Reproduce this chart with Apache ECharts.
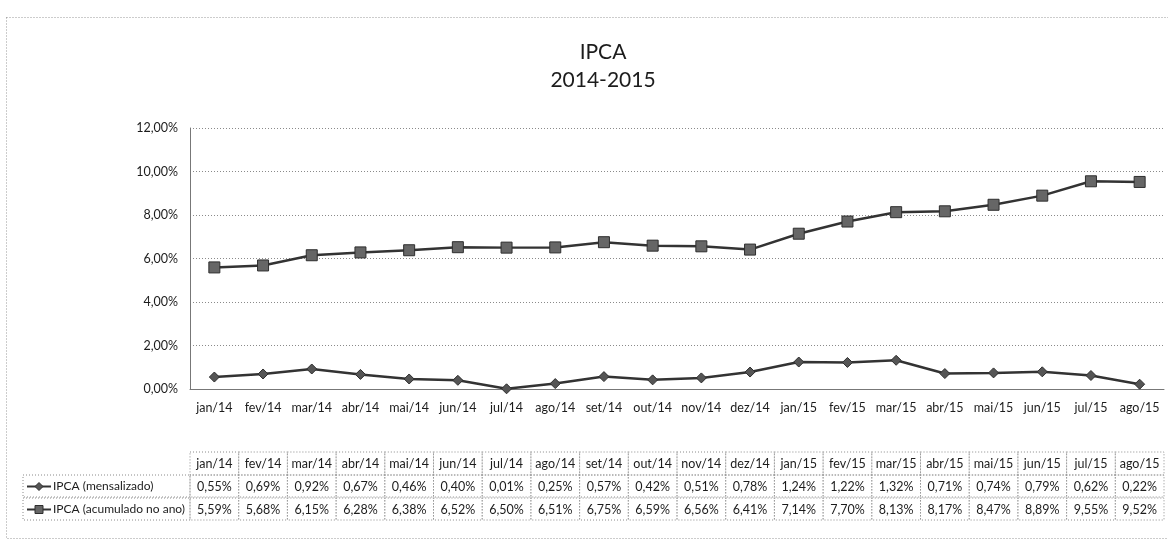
<!DOCTYPE html>
<html>
<head>
<meta charset="utf-8">
<script src="https://cdn.jsdelivr.net/npm/echarts@6/dist/echarts.min.js"></script>
<style>
html,body{margin:0;padding:0;background:#fff;}
#c{width:1168px;height:549px;}
</style>
</head>
<body>
<div id="c"></div>
<script>
const categories = ['jan/14','fev/14','mar/14','abr/14','mai/14','jun/14','jul/14','ago/14','set/14','out/14','nov/14','dez/14','jan/15','fev/15','mar/15','abr/15','mai/15','jun/15','jul/15','ago/15'];
const mensal = [0.55,0.69,0.92,0.67,0.46,0.40,0.01,0.25,0.57,0.42,0.51,0.78,1.24,1.22,1.32,0.71,0.74,0.79,0.62,0.22];
const acumulado = [5.59,5.68,6.15,6.28,6.38,6.52,6.50,6.51,6.75,6.59,6.56,6.41,7.14,7.70,8.13,8.17,8.47,8.89,9.55,9.52];
const seriesNames = ['IPCA (mensalizado)','IPCA (acumulado no ano)'];
const titleLines = ['IPCA','2014-2015'];
const yMin = 0, yMax = 12, yStep = 2;

const FONT = 'Lato, "Noto Sans", sans-serif';
const TXT = '#1c1c1c';
const fmt = v => v.toFixed(2).replace('.', ',') + '%';

const chart = echarts.init(document.getElementById('c'), null, {renderer:'canvas'});
const option = {
  animation:false,
  backgroundColor:'#fff',
  title:{
    text: titleLines.join('\n'),
    left: 598, top: 33, textAlign:'center',
    textStyle:{fontFamily:FONT, fontSize:21, fontWeight:'normal', color:'#1c1c1c', lineHeight:28}
  },
  grid:{left:190, right:4, top:128, bottom:160},
  xAxis:{
    type:'category', data:categories, boundaryGap:true,
    axisLine:{lineStyle:{color:'#777', width:1}},
    axisTick:{show:false},
    axisLabel:{fontFamily:FONT, fontSize:12.5, color:TXT, margin:12, interval:0}
  },
  yAxis:{
    type:'value', min:yMin, max:yMax, interval:yStep,
    axisLine:{show:true, lineStyle:{color:'#777'}},
    axisTick:{show:false},
    splitLine:{lineStyle:{color:'#8a8a8a', type:[1,2], width:1}},
    axisLabel:{fontFamily:FONT, fontSize:12.5, color:TXT, margin:12, formatter:v => fmt(v)}
  },
  series:[
    {name:seriesNames[0], type:'line', data:mensal, symbol:'diamond', symbolSize:10,
     lineStyle:{color:'#333', width:2.5}, itemStyle:{color:'#555', borderColor:'#2e2e2e', borderWidth:1}},
    {name:seriesNames[1], type:'line', data:acumulado, symbol:'rect', symbolSize:11,
     lineStyle:{color:'#333', width:2.5}, itemStyle:{color:'#666', borderColor:'#2e2e2e', borderWidth:1}}
  ]
};
chart.setOption(option);

// Data table below the chart, built from the same arrays and aligned to the category axis
const x0 = chart.convertToPixel({xAxisIndex:0}, 0);
const x1 = chart.convertToPixel({xAxisIndex:0}, 1);
const bw = x1 - x0;
const tableTop = 452, rowH = 23;
const labelLeft = 23;
const dataLeft = x0 - bw/2;
const cellStyle = {fill:'none', stroke:'#8a8a8a', lineWidth:1, lineDash:[1,2]};
const cellFont = '12.5px ' + FONT;
const labelFont = '12px ' + FONT;
const g = [];
g.push({type:'rect', shape:{x:6.5, y:17.5, width:1170, height:521}, style:{fill:'none', stroke:'#999', lineWidth:1, lineDash:[1,2]}, silent:true});
const rows = [mensal, acumulado];
categories.forEach((c, i) => {
  const cx = chart.convertToPixel({xAxisIndex:0}, i);
  g.push({type:'rect', shape:{x:cx-bw/2, y:tableTop, width:bw, height:rowH}, style:cellStyle});
  g.push({type:'text', x:cx, y:tableTop+rowH/2, style:{text:c, align:'center', verticalAlign:'middle', font:cellFont, fill:TXT}});
  rows.forEach((r, k) => {
    const y = tableTop + rowH*(k+1);
    g.push({type:'rect', shape:{x:cx-bw/2, y:y, width:bw, height:rowH-1}, style:cellStyle});
    g.push({type:'text', x:cx, y:y+rowH/2, style:{text:fmt(r[i]), align:'center', verticalAlign:'middle', font:cellFont, fill:TXT}});
  });
});
seriesNames.forEach((n, k) => {
  const y = tableTop + rowH*(k+1);
  g.push({type:'rect', shape:{x:labelLeft, y:y, width:dataLeft-labelLeft, height:rowH-1}, style:cellStyle});
  const ly = y + rowH/2;
  g.push({type:'line', shape:{x1:labelLeft+4, y1:ly, x2:labelLeft+28, y2:ly}, style:{stroke:'#333', lineWidth:2}});
  if (k === 0) {
    g.push({type:'polygon', shape:{points:[[labelLeft+16,ly-4],[labelLeft+20,ly],[labelLeft+16,ly+4],[labelLeft+12,ly]]}, style:{fill:'#555', stroke:'#2e2e2e'}});
  } else {
    g.push({type:'rect', shape:{x:labelLeft+12, y:ly-4, width:8, height:8}, style:{fill:'#666', stroke:'#2e2e2e'}});
  }
  g.push({type:'text', x:labelLeft+30, y:ly, style:{text:n, align:'left', verticalAlign:'middle', font:labelFont, fill:TXT}});
});
chart.setOption({graphic:{elements:g}});
</script>
</body>
</html>
